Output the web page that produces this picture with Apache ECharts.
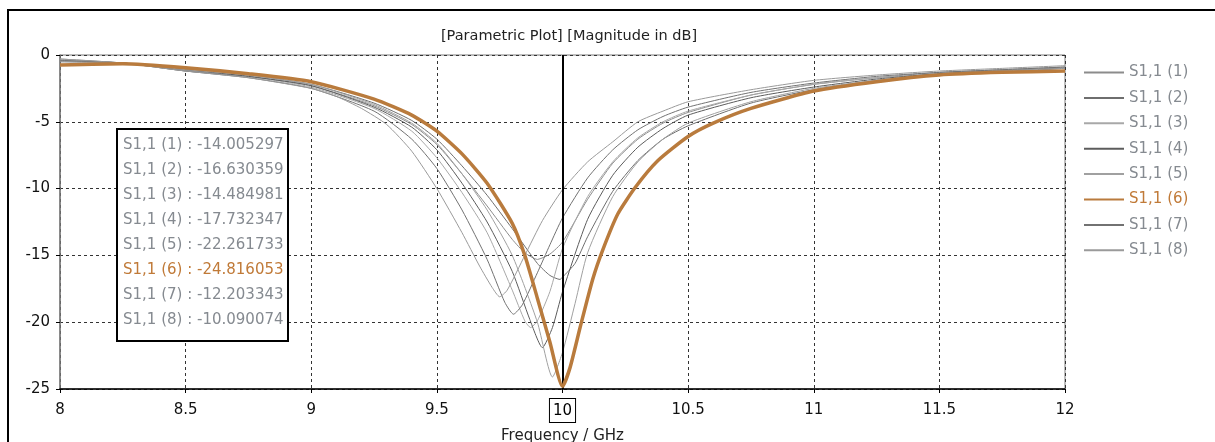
<!DOCTYPE html>
<html>
<head>
<meta charset="utf-8">
<script src="https://cdn.jsdelivr.net/npm/echarts@6/dist/echarts.min.js"></script>
<style>
  html, body { margin: 0; padding: 0; background: #fff; }
  #chart { width: 1215px; height: 442px; }
</style>
</head>
<body>
<div id="chart"></div>
<script>
// S1,1 sweep: [frequency GHz, magnitude dB]
const s11_1 = [[8,-0.3],[8.25,-0.6],[8.5,-1.2],[8.75,-1.6],[9,-2.3],[9.25,-3.8],[9.4,-5.2],[9.5,-6.7],[9.6,-8.9],[9.7,-11.3],[9.8,-13.8],[9.85,-14.8],[9.9,-15.3],[9.95,-14.9],[10,-14.0],[10.1,-10.8],[10.2,-8.1],[10.3,-6.3],[10.4,-5.1],[10.5,-4.3],[10.75,-3.0],[11,-2.2],[11.25,-1.7],[11.5,-1.3],[11.75,-1.1],[12,-0.9]];
const s11_2 = [[8,-0.4],[8.25,-0.6],[8.5,-1.1],[8.75,-1.5],[9,-2.2],[9.25,-3.6],[9.4,-4.9],[9.5,-6.3],[9.6,-8.3],[9.7,-10.5],[9.8,-13.0],[9.9,-15.6],[9.95,-16.5],[9.99,-16.8],[10,-16.63],[10.05,-15.6],[10.1,-13.6],[10.2,-10.2],[10.3,-7.9],[10.4,-6.3],[10.5,-5.3],[10.75,-3.6],[11,-2.6],[11.25,-1.9],[11.5,-1.5],[11.75,-1.2],[12,-1.0]];
const s11_3 = [[8,-0.4],[8.25,-0.6],[8.5,-1.1],[8.75,-1.6],[9,-2.4],[9.25,-4.0],[9.4,-5.7],[9.5,-7.7],[9.6,-10.3],[9.7,-13.3],[9.8,-17.6],[9.85,-19.9],[9.873,-20.4],[9.9,-19.9],[9.95,-17.7],[10,-14.48],[10.1,-10.6],[10.2,-8.0],[10.3,-6.2],[10.4,-5.0],[10.5,-4.2],[10.75,-3.0],[11,-2.2],[11.25,-1.7],[11.5,-1.4],[11.75,-1.1],[12,-1.0]];
const s11_4 = [[8,-0.5],[8.25,-0.6],[8.5,-1.1],[8.75,-1.6],[9,-2.3],[9.25,-3.9],[9.4,-5.4],[9.5,-7.1],[9.6,-9.6],[9.7,-12.5],[9.8,-16.2],[9.87,-19.8],[9.92,-21.9],[9.96,-20.4],[10,-17.73],[10.1,-12.3],[10.2,-9.0],[10.3,-6.9],[10.4,-5.5],[10.5,-4.5],[10.75,-3.2],[11,-2.4],[11.25,-1.8],[11.5,-1.4],[11.75,-1.2],[12,-1.0]];
const s11_5 = [[8,-0.5],[8.25,-0.6],[8.5,-1.1],[8.75,-1.5],[9,-2.2],[9.25,-3.7],[9.4,-5.1],[9.5,-6.6],[9.6,-8.9],[9.7,-11.6],[9.8,-15.0],[9.9,-20.0],[9.96,-24.1],[10,-22.26],[10.05,-18.6],[10.1,-14.8],[10.2,-10.6],[10.3,-8.0],[10.4,-6.3],[10.5,-5.1],[10.75,-3.5],[11,-2.5],[11.25,-1.9],[11.5,-1.5],[11.75,-1.2],[12,-1.0]];
const s11_6 = [[8,-0.75],[8.25,-0.65],[8.5,-0.95],[8.75,-1.4],[9,-2.0],[9.25,-3.3],[9.4,-4.5],[9.5,-5.7],[9.6,-7.4],[9.7,-9.6],[9.8,-12.6],[9.85,-15.0],[9.9,-18.2],[9.95,-21.5],[10,-24.8],[10.03,-23.4],[10.07,-20.4],[10.12,-16.8],[10.16,-14.6],[10.22,-11.9],[10.29,-9.9],[10.38,-7.9],[10.5,-6.1],[10.6,-5.1],[10.75,-4.0],[11,-2.7],[11.25,-2.0],[11.5,-1.5],[11.75,-1.3],[12,-1.2]];
const s11_7 = [[8,-0.4],[8.25,-0.6],[8.5,-1.2],[8.75,-1.7],[9,-2.5],[9.25,-4.2],[9.4,-6.3],[9.5,-8.5],[9.6,-11.6],[9.7,-15.3],[9.77,-18.5],[9.805,-19.4],[9.84,-18.7],[9.9,-16.3],[9.95,-14.2],[10,-12.2],[10.1,-9.2],[10.2,-7.1],[10.3,-5.6],[10.4,-4.6],[10.5,-3.9],[10.75,-2.8],[11,-2.1],[11.25,-1.6],[11.5,-1.3],[11.75,-1.1],[12,-0.9]];
const s11_8 = [[8,-0.3],[8.25,-0.6],[8.5,-1.2],[8.75,-1.7],[9,-2.5],[9.1,-3.1],[9.2,-4.0],[9.3,-5.2],[9.4,-7.2],[9.5,-10.0],[9.6,-13.3],[9.67,-15.8],[9.72,-17.4],[9.75,-18.1],[9.78,-17.6],[9.85,-15.0],[9.92,-12.4],[10,-10.09],[10.1,-8.0],[10.2,-6.5],[10.3,-5.0],[10.4,-4.2],[10.5,-3.5],[10.75,-2.6],[11,-1.9],[11.25,-1.5],[11.5,-1.2],[11.75,-1.0],[12,-0.8]];

const seriesNames = ["S1,1 (1)", "S1,1 (2)", "S1,1 (3)", "S1,1 (4)", "S1,1 (5)", "S1,1 (6)", "S1,1 (7)", "S1,1 (8)"];
const seriesData = [s11_1, s11_2, s11_3, s11_4, s11_5, s11_6, s11_7, s11_8];
const seriesColors = ["#8c8c8c", "#6e6e6e", "#a8a8a8", "#5c5c5c", "#a0a0a0", "#b97b3d", "#727272", "#9a9a9a"];

// marker at 10 GHz
const markerFreq = 10;
const markerValues = ["-14.005297", "-16.630359", "-14.484981", "-17.732347", "-22.261733", "-24.816053", "-12.203343", "-10.090074"];

const FONT = "DejaVu Sans";
const HIGHLIGHT = 5; // S1,1 (6)

const chart = echarts.init(document.getElementById("chart"));

const series = seriesNames.map((name, i) => ({
  name,
  type: "line",
  data: seriesData[i],
  symbol: "none",
  smooth: 0.2,
  z: i === HIGHLIGHT ? 5 : 3,
  lineStyle: { color: seriesColors[i], width: i === HIGHLIGHT ? 3.5 : 1 },
  itemStyle: { color: seriesColors[i] },
  emphasis: { disabled: true },
}));

// vertical marker line at 10 GHz
series[HIGHLIGHT].markLine = {
  silent: true,
  symbol: "none",
  animation: false,
  lineStyle: { color: "#000", width: 2, type: "solid" },
  label: {
    show: true,
    position: "start",
    distance: 10,
    formatter: String(markerFreq),
    color: "#000",
    fontFamily: FONT,
    fontSize: 15,
    backgroundColor: "#fff",
    borderColor: "#000",
    borderWidth: 1,
    padding: [5, 3, 3, 3],
  },
  data: [{ xAxis: markerFreq }],
};

// marker readout box
const boxText = seriesNames.map((name, i) => ({
  type: "text",
  x: 123,
  y: 145 + i * 25,
  z: 101,
  style: {
    text: name + " : " + markerValues[i],
    fill: i === HIGHLIGHT ? "#c07a38" : "#858a90",
    font: "15px '" + FONT + "'",
    verticalAlign: "middle",
  },
}));

const option = {
  animation: false,
  title: {
    text: "[Parametric Plot] [Magnitude in dB]",
    left: 564,
    top: 24,
    textAlign: "center",
    textStyle: { fontFamily: FONT, fontSize: 14.5, fontWeight: "normal", color: "#222" },
  },
  grid: {
    left: 60,
    right: 150,
    top: 55,
    bottom: 53,
    outerBoundsMode: "none",
    containLabel: false,
    show: true,
    borderColor: "#7a7a7a",
    borderWidth: 1,
  },
  legend: {
    orient: "vertical",
    left: 1083,
    top: 65,
    padding: 0,
    itemWidth: 40,
    itemHeight: 14,
    itemGap: 10.4,
    itemStyle: { opacity: 0 },
    selectedMode: false,
    textStyle: { fontFamily: FONT, fontSize: 15, color: "#858a90" },
    data: seriesNames.map((name, i) => ({
      name,
      textStyle: { color: i === HIGHLIGHT ? "#c07a38" : "#858a90" },
    })),
  },
  xAxis: {
    type: "value",
    min: 8,
    max: 12,
    interval: 0.5,
    name: "Frequency / GHz",
    nameLocation: "middle",
    nameGap: 40,
    nameTextStyle: { fontFamily: FONT, fontSize: 15, color: "#222" },
    axisLine: { show: true, onZero: false, lineStyle: { color: "#000", width: 1.5 } },
    axisTick: { show: true, length: 4, lineStyle: { color: "#000" } },
    axisLabel: { fontFamily: FONT, fontSize: 15, color: "#111", margin: 14 },
    splitLine: { show: true, lineStyle: { color: "#333", type: [3, 3], width: 1 } },
  },
  yAxis: {
    type: "value",
    min: -25,
    max: 0,
    interval: 5,
    axisLine: { show: true, lineStyle: { color: "#7a7a7a", width: 1.5 } },
    axisTick: { show: true, length: 4, lineStyle: { color: "#000" } },
    axisLabel: { fontFamily: FONT, fontSize: 15, color: "#111", margin: 10 },
    splitLine: { show: true, lineStyle: { color: "#333", type: [3, 3], width: 1 } },
  },
  graphic: [
    {
      type: "rect",
      z: -1,
      shape: { x: 8, y: 10, width: 1400, height: 600 },
      style: { fill: "none", stroke: "#000", lineWidth: 2 },
    },
    {
      type: "rect",
      z: 100,
      shape: { x: 117, y: 129, width: 171, height: 212 },
      style: { fill: "#fff", stroke: "#000", lineWidth: 2 },
    },
    ...boxText,
  ],
  series,
};

chart.setOption(option);
</script>
</body>
</html>
